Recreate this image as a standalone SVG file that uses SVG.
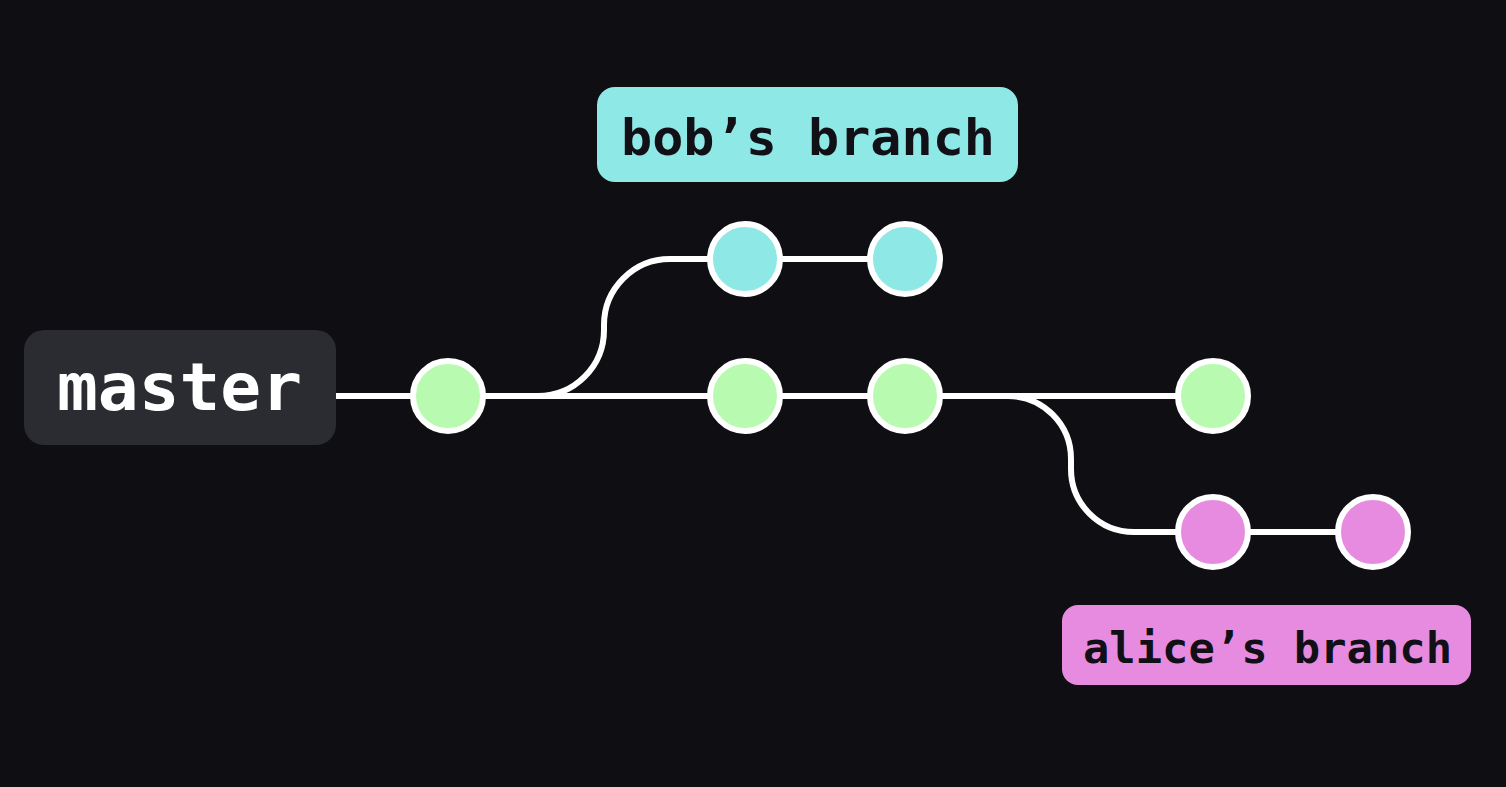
<svg xmlns="http://www.w3.org/2000/svg" width="1506" height="787" viewBox="0 0 1506 787">
<style>
.line{fill:none;stroke:#ffffff;stroke-width:6;stroke-linecap:round}
.c{stroke:#ffffff;stroke-width:6}
.g{fill:#b8fbb0}
.b{fill:#8ee8e6}
.p{fill:#e78be0}
.lbl{font-family:"DejaVu Sans Mono","Liberation Mono",monospace;font-weight:bold}
</style>
<rect width="1506" height="787" fill="#0f0e13"/>
<g id="connectors">
<path class="line" d="M336 396 L1213 396"/>
<path class="line" d="M538 396 A66 66 0 0 0 604 330 L604 325 A66 66 0 0 1 670 259 L905 259"/>
<path class="line" d="M1008 396 A63 63 0 0 1 1071 459 L1071 469 A63 63 0 0 0 1134 532 L1373 532"/>
</g>
<g id="master">
<rect x="24" y="330" width="312" height="115" rx="20" fill="#2a2c32"/>
<text class="lbl" x="57" y="410" font-size="66" fill="#ffffff" textLength="245" lengthAdjust="spacingAndGlyphs">master</text>
</g>
<g id="bob-label">
<rect x="597" y="87" width="421" height="95" rx="18" fill="#8ee8e6"/>
<text class="lbl" x="621" y="155" font-size="50" fill="#111016" textLength="374" lengthAdjust="spacingAndGlyphs">bob’s branch</text>
</g>
<g id="alice-label">
<rect x="1062" y="605" width="409" height="80" rx="16" fill="#e78be0"/>
<text class="lbl" x="1083" y="663" font-size="42" fill="#111016" textLength="369" lengthAdjust="spacingAndGlyphs">alice’s branch</text>
</g>
<g id="m1"><circle class="c g" cx="448" cy="396" r="35"/></g>
<g id="m2"><circle class="c g" cx="745" cy="396" r="35"/></g>
<g id="m3"><circle class="c g" cx="905" cy="396" r="35"/></g>
<g id="m4"><circle class="c g" cx="1213" cy="396" r="35"/></g>
<g id="b1"><circle class="c b" cx="745" cy="259" r="35"/></g>
<g id="b2"><circle class="c b" cx="905" cy="259" r="35"/></g>
<g id="a1"><circle class="c p" cx="1213" cy="532" r="35"/></g>
<g id="a2"><circle class="c p" cx="1373" cy="532" r="35"/></g>
</svg>
